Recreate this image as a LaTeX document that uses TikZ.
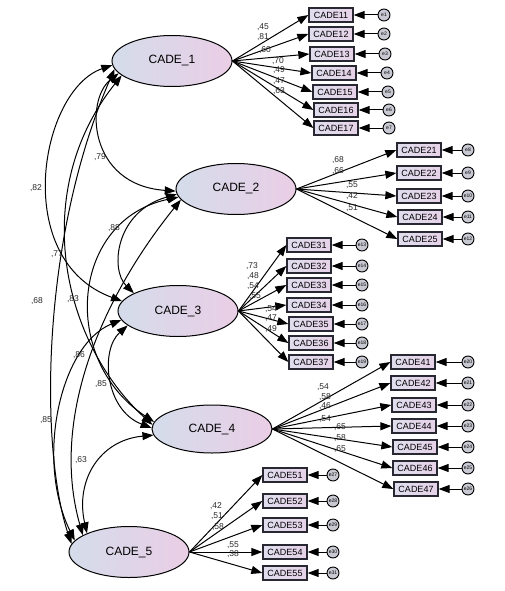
\documentclass[tikz,border=0pt]{standalone}
\usepackage{fontspec}
\setmainfont{Liberation Sans}
\usetikzlibrary{shapes.geometric,arrows.meta}
\definecolor{latL}{RGB}{212,220,234}
\definecolor{latR}{RGB}{234,206,230}
\definecolor{boxL}{RGB}{224,222,238}
\definecolor{boxR}{RGB}{230,210,232}
\definecolor{boxD}{RGB}{40,40,50}
\definecolor{errF}{RGB}{200,200,210}
\definecolor{coefC}{RGB}{40,40,40}
\tikzset{
 lat/.style={ellipse, draw=black, line width=1pt, minimum width=120pt, minimum height=51pt, inner sep=0pt, left color=latL, right color=latR, font=\fontsize{12}{12}\selectfont},
 obs/.style={rectangle, draw=boxD, line width=1.3pt, minimum width=44pt, minimum height=14pt, inner sep=0pt, left color=boxL, right color=boxR, font=\fontsize{9}{9}\selectfont},
 err/.style={circle, draw=black, line width=0.9pt, fill=errF, minimum size=12pt, inner sep=0pt, font=\fontsize{5}{5}\selectfont},
 load/.style={line width=1pt, -{Triangle[length=11pt,width=8pt]}},
 corr/.style={line width=1pt, {Triangle[length=11pt,width=8pt]}-{Triangle[length=11pt,width=8pt]}},
 coef/.style={font=\fontsize{8.5}{8.5}\selectfont, inner sep=0pt, text=coefC}
}
\begin{document}
\begin{tikzpicture}[x=1pt,y=-1pt]
\useasboundingbox (0,0) rectangle (505,591);
% latent variables
\node[lat] (c1) at (172,61) {CADE\_1};
\node[lat] (c2) at (236,189) {CADE\_2};
\node[lat] (c3) at (178,311) {CADE\_3};
\node[lat, minimum height=48pt] (c4) at (212,429) {CADE\_4};
\node[lat] (c5) at (129,552) {CADE\_5};
% CADE_1 items
\foreach \i/\x/\y/\e in {1/331/15/1, 2/331/34/2, 3/332/54/3, 4/334/73/4, 5/335/92/5, 6/336/110/6, 7/336/128/7} {
 \node[obs] (b1\i) at (\x,\y) {CADE1\i};
 \node[err] (e1\i) at (\x+53,\y) {e\e};
 \draw[load] (c1.east) -- (b1\i.west);
 \draw[load] (e1\i) -- (b1\i);
}
% CADE_2 items
\foreach \i/\x/\y/\e in {1/419/150/8, 2/419/173/9, 3/419/196/10, 4/420/217/11, 5/420/239/12} {
 \node[obs] (b2\i) at (\x,\y) {CADE2\i};
 \node[err] (e2\i) at (468,\y) {e\e};
 \draw[load] (c2.east) -- (b2\i.west);
 \draw[load] (e2\i) -- (b2\i);
}
% CADE_3 items
\foreach \i/\x/\y/\e in {1/309/245/13, 2/309/266/14, 3/309/285/15, 4/309/305/16, 5/311/324/17, 6/311/343/18, 7/311/362/19} {
 \node[obs] (b3\i) at (\x,\y) {CADE3\i};
 \node[err] (e3\i) at (362,\y) {e\e};
 \draw[load] (c3.east) -- (b3\i.west);
 \draw[load] (e3\i) -- (b3\i);
}
% CADE_4 items
\foreach \i/\x/\y/\e in {1/413/362/20, 2/413/383/21, 3/414/405/22, 4/414/426/23, 5/415/447/24, 6/415/468/25, 7/416/489/26} {
 \node[obs] (b4\i) at (\x,\y) {CADE4\i};
 \node[err] (e4\i) at (468,\y) {e\e};
 \draw[load] (c4.east) -- (b4\i.west);
 \draw[load] (e4\i) -- (b4\i);
}
% CADE_5 items
\foreach \i/\x/\y/\e in {1/285/475/27, 2/285/501/28, 3/285/525/29, 4/285/552/30, 5/285/573/31} {
 \node[obs] (b5\i) at (\x,\y) {CADE5\i};
 \node[err] (e5\i) at (333,\y) {e\e};
 \draw[load] (c5.east) -- (b5\i.west);
 \draw[load] (e5\i) -- (b5\i);
}
% loadings
\foreach \t/\x/\y in {45/263/27, 81/263/37, 60/265/50, 70/278/61, 49/279/70, 47/279/81, 63/279/91,
 68/338/160, 66/338/171, 55/352/185, 42/352/196, 51/352/208,
 73/252/266, 48/253/276, 54/253/286, 55/255/296, 54/271/309, 47/271/318, 49/271/329,
 54/323/387, 58/325/397, 46/325/406, 54/325/419, 65/340/427, 58/340/438, 65/340/449,
 42/216/506, 51/217/516, 58/218/527, 55/233/545, 38/233/554}
 \node[coef] (l\x\y) at (\x,\y) {,\t};
% correlations
\draw[corr] (c1.193) .. controls (85,100) and (88,185) .. (c2.182);
\draw[corr] (c1.184) .. controls (40,90) and (10,260) .. (c3.170);
\draw[corr] (c1.188) .. controls (40,240) and (40,450) .. (c5.172);
\draw[corr] (c1.196) .. controls (30,190) and (60,340) .. (c4.176);
\draw[corr] (c2.185) .. controls (115,212) and (110,270) .. (c3.158);
\draw[corr] (c2.188) .. controls (70,220) and (60,360) .. (c4.173);
\draw[corr] (c2.191) .. controls (100,300) and (50,420) .. (c5.160);
\draw[corr] (c3.189) .. controls (60,345) and (35,460) .. (c5.168);
\draw[corr] (c3.196) .. controls (100,350) and (105,410) .. (c4.179);
\draw[corr] (c4.186) .. controls (100,440) and (75,480) .. (c5.156);
\foreach \t/\x/\y in {79/100/157, 82/36/188, 77/57/254, 68/37/301, 88/114/228, 83/73/299, 86/79/355, 85/101/384, 85/46/420, 63/81/460}
 \node[coef] (r\x\y) at (\x,\y) {,\t};
\end{tikzpicture}
\end{document}
